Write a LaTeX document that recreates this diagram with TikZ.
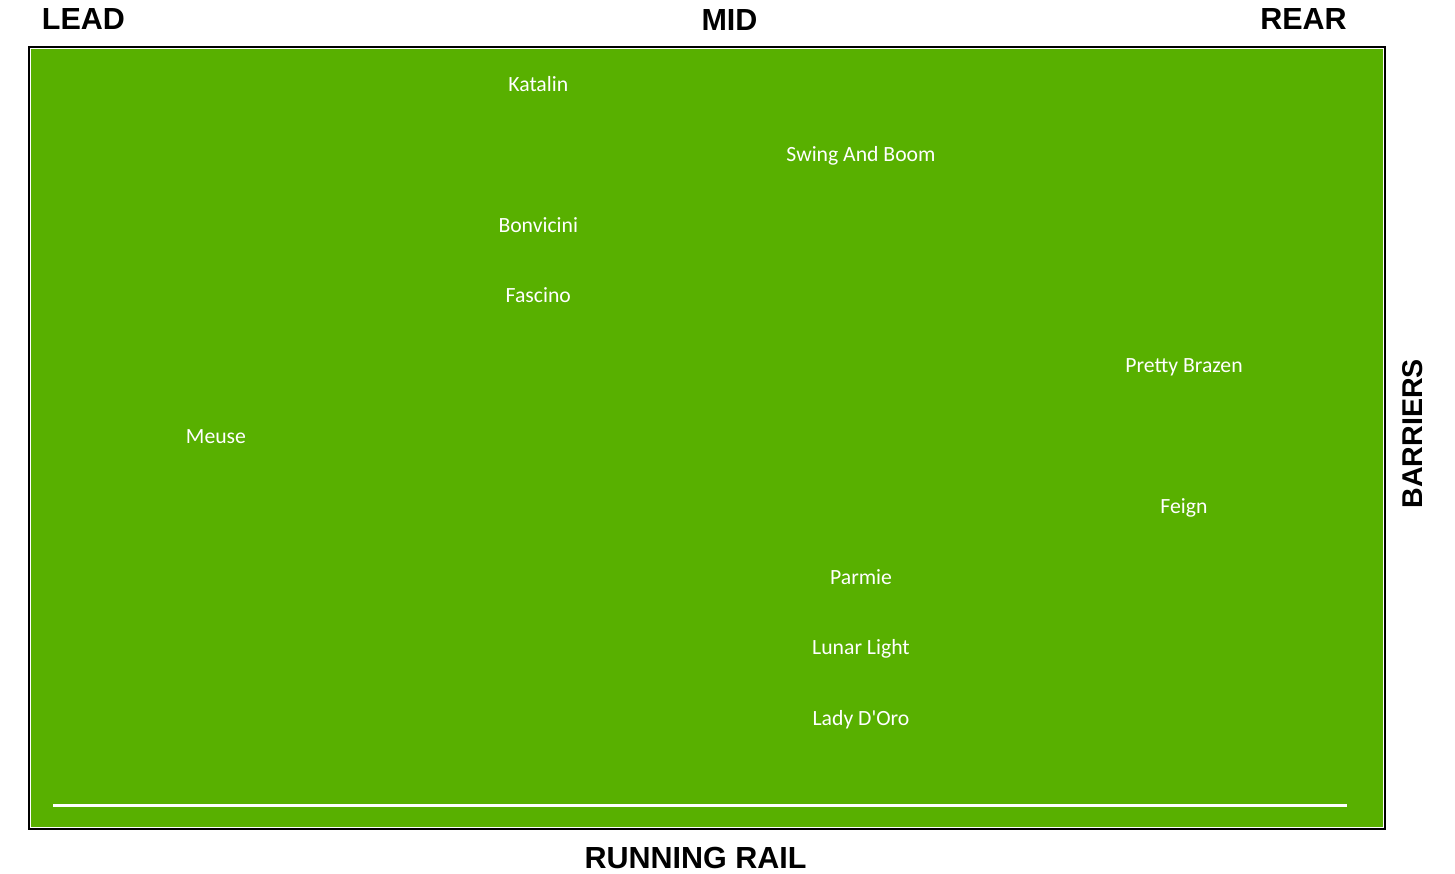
\documentclass[tikz,border=0pt]{standalone}
\usepackage{fontspec}
\setmainfont{Liberation Sans}
\newfontfamily\calib{Carlito}
\definecolor{turf}{RGB}{88,176,0}
\begin{document}
\begin{tikzpicture}[x=1pt,y=-1pt,
  horse/.style={text=white,font=\calib\fontsize{21.7}{24}\selectfont,anchor=base,inner sep=0pt},
  heading/.style={text=black,font=\bfseries\fontsize{30.5}{33}\selectfont,anchor=base,inner sep=0pt},
  frame/.style={draw=black,line width=2.4pt},
  rail/.style={draw=white,line width=2.5pt}]
\useasboundingbox (0,0) rectangle (1455,873);
\fill[white] (0,0) rectangle (1455,873);
\draw[frame] (29.1,47.1) rectangle (1385,829.1);
\fill[turf] (31.2,49.2) rectangle (1383.1,826.8);
\coordinate (railL) at (53,805.5);
\coordinate (railR) at (1347,805.5);
\draw[rail] (railL) -- (railR);
% headings
\node[heading] (lead) at (83.5,29.3) {LEAD};
\node[heading] (mid) at (729.5,30.3) {MID};
\node[heading] (rear) at (1303.5,29.3) {REAR};
\node[heading] (runrail) at (695.5,868.3) {RUNNING RAIL};
\node[heading,rotate=90,font=\bfseries\fontsize{28.6}{31}\selectfont] (barriers) at (1422.5,433.7) {BARRIERS};
% horses
\node[horse] (katalin) at (538.3,91.5) {Katalin};
\node[horse] (swing) at (861,161.5) {Swing And Boom};
\node[horse] (bonvicini) at (538.3,232.5) {Bonvicini};
\node[horse] (fascino) at (538.3,302.5) {Fascino};
\node[horse] (pretty) at (1184,372.5) {Pretty Brazen};
\node[horse] (meuse) at (216,443.5) {Meuse};
\node[horse] (feign) at (1184,513.5) {Feign};
\node[horse] (parmie) at (861,584.5) {Parmie};
\node[horse] (lunar) at (861,654.5) {Lunar Light};
\node[horse] (lady) at (861,725.5) {Lady D'Oro};
\end{tikzpicture}
\end{document}
